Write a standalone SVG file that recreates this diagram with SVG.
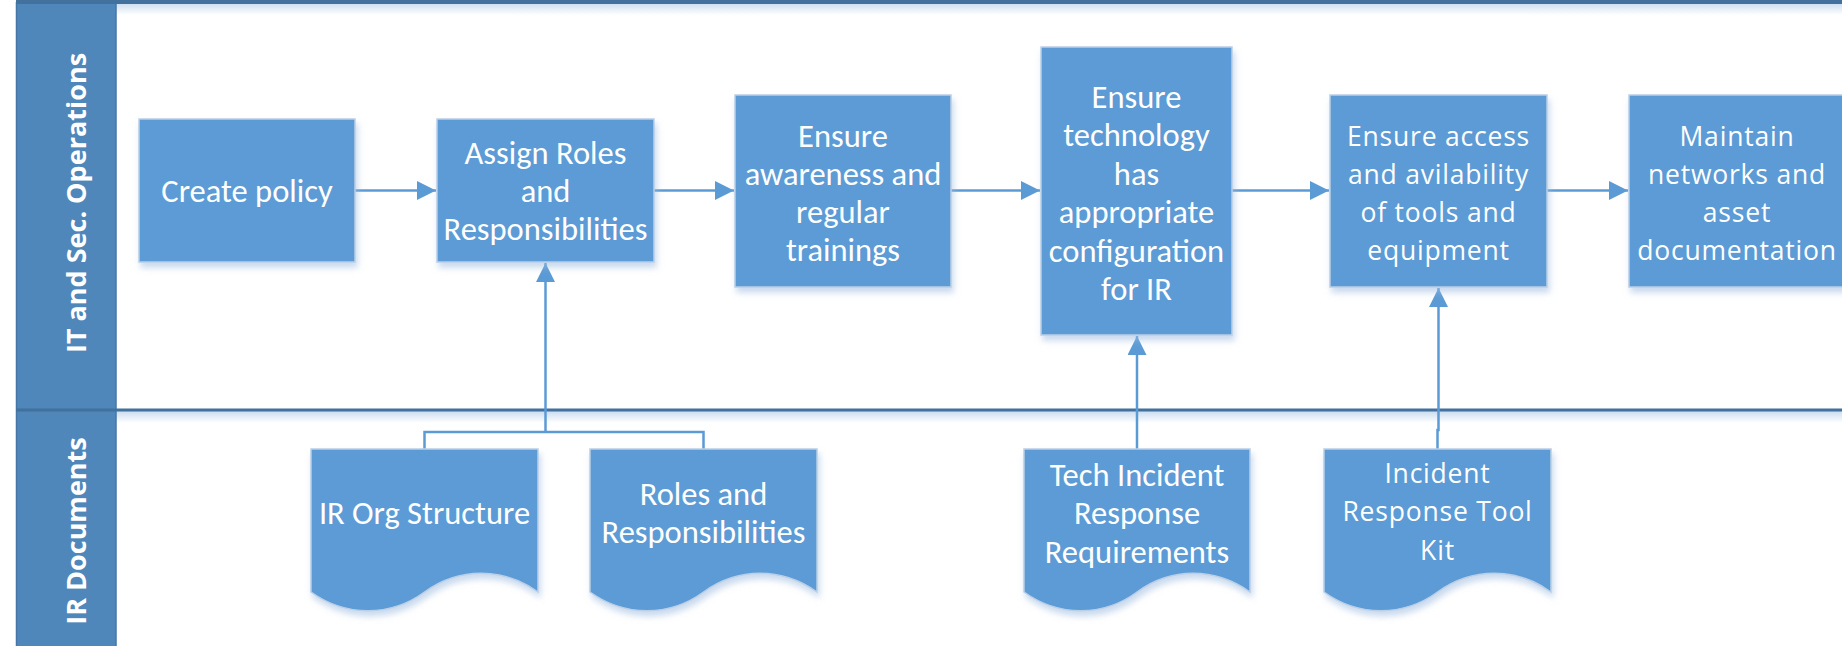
<svg xmlns="http://www.w3.org/2000/svg" width="1842" height="646" viewBox="0 0 1842 646">
<style>
.box{fill:#5B9BD5;stroke:#BBCFE6;stroke-width:1.5;filter:url(#sh)}
.doc{fill:#5B9BD5;stroke:#BBCFE6;stroke-width:1.5;filter:url(#sh)}
.t{font-family:Calibri,Carlito,Lato,"Liberation Sans",sans-serif;font-size:32.5px;fill:#fff;text-anchor:middle}
.t2{font-family:"Open Sans","DejaVu Sans",sans-serif;font-size:26.5px;letter-spacing:0.8px;fill:#fff;text-anchor:middle}
.hdr{font-family:"Open Sans","DejaVu Sans",sans-serif;font-weight:bold;font-size:27px;fill:#fff;text-anchor:middle}
.con{fill:none;stroke:#5B9BD5;stroke-width:2.5}
</style>
<defs>
<filter id="sh" x="-10%" y="-10%" width="125%" height="130%">
<feGaussianBlur in="SourceAlpha" stdDeviation="3"/>
<feOffset dx="2" dy="5" result="b"/>
<feFlood flood-color="#9DBBE0" flood-opacity="0.55"/>
<feComposite in2="b" operator="in"/>
<feMerge><feMergeNode/><feMergeNode in="SourceGraphic"/></feMerge>
</filter>
<linearGradient id="lsh" x1="0" y1="0" x2="0" y2="1">
<stop offset="0" stop-color="#C5D8EE" stop-opacity="0.9"/>
<stop offset="1" stop-color="#C5D8EE" stop-opacity="0"/>
</linearGradient>
<marker id="ah" markerUnits="userSpaceOnUse" markerWidth="20" markerHeight="20" refX="19" refY="9.5" orient="auto">
<path d="M0,0 L19,9.5 L0,19 z" fill="#5B9BD5"/>
</marker>
</defs>

<g id="lanes">
<rect x="116" y="3" width="1726" height="12" fill="url(#lsh)"/>
<rect x="116" y="411" width="1726" height="12" fill="url(#lsh)"/>
<rect x="16.5" y="2" width="99.5" height="644" fill="#4F87BA"/>
<line x1="116" y1="2" x2="116" y2="646" stroke="#4676A5" stroke-width="1.5"/>
<line x1="16.5" y1="2" x2="16.5" y2="646" stroke="#4676A5" stroke-width="1.5"/>
<line x1="16" y1="2" x2="1842" y2="2" stroke="#41719C" stroke-width="4"/>
<line x1="16" y1="410" x2="1842" y2="410" stroke="#41719C" stroke-width="3"/>
<text class="hdr" transform="translate(76,203) rotate(-90)" y="9.5">IT and Sec. Operations</text>
<text class="hdr" transform="translate(76,531) rotate(-90)" y="9.5">IR Documents</text>
</g>

<g id="connectors">
<path class="con" d="M355,190.5 H436" marker-end="url(#ah)"/>
<path class="con" d="M654,190.5 H734" marker-end="url(#ah)"/>
<path class="con" d="M951,190.5 H1040" marker-end="url(#ah)"/>
<path class="con" d="M1232,190.5 H1329" marker-end="url(#ah)"/>
<path class="con" d="M1547,190.5 H1628" marker-end="url(#ah)"/>
<path class="con" d="M424.5,449 V432 H703.5 V449"/>
<path class="con" d="M545.5,432 V263" marker-end="url(#ah)"/>
<path class="con" d="M1137,449 V336" marker-end="url(#ah)"/>
<path class="con" d="M1437.5,449 V430 H1438.5 V288" marker-end="url(#ah)"/>
</g>

<g id="n1">
<rect class="box" x="139" y="119" width="216" height="143"/>
<text class="t" x="247" y="202">Create policy</text>
</g>
<g id="n2">
<rect class="box" x="437" y="119" width="217" height="143"/>
<text class="t" x="545.5" y="164">Assign Roles</text>
<text class="t" x="545.5" y="202">and</text>
<text class="t" x="545.5" y="240">Responsibilities</text>
</g>
<g id="n3">
<rect class="box" x="735" y="95" width="216" height="192"/>
<text class="t" x="843" y="146.5">Ensure</text>
<text class="t" x="843" y="184.5">awareness and</text>
<text class="t" x="843" y="222.5">regular</text>
<text class="t" x="843" y="260.5">trainings</text>
</g>
<g id="n4">
<rect class="box" x="1041" y="47" width="191" height="288"/>
<text class="t" x="1136.5" y="107.5">Ensure</text>
<text class="t" x="1136.5" y="146">technology</text>
<text class="t" x="1136.5" y="184.5">has</text>
<text class="t" x="1136.5" y="223">appropriate</text>
<text class="t" x="1136.5" y="261.5">configuration</text>
<text class="t" x="1136.5" y="300">for IR</text>
</g>
<g id="n5">
<rect class="box" x="1330" y="95" width="217" height="192"/>
<text class="t2" x="1438.5" y="145.5">Ensure access</text>
<text class="t2" x="1438.5" y="183.5">and avilability</text>
<text class="t2" x="1438.5" y="221.5">of tools and</text>
<text class="t2" x="1438.5" y="259.5">equipment</text>
</g>
<g id="n6">
<rect class="box" x="1629" y="95" width="216" height="192"/>
<text class="t2" x="1737" y="145.5">Maintain</text>
<text class="t2" x="1737" y="183.5">networks and</text>
<text class="t2" x="1737" y="221.5">asset</text>
<text class="t2" x="1737" y="259.5">documentation</text>
</g>

<g id="d1">
<path class="doc" d="M311,449 H538 V592 C503,567 459,567 424.5,592 C390,617 346,617 311,592 Z"/>
<text class="t" x="424.5" y="524">IR Org Structure</text>
</g>
<g id="d2">
<path class="doc" d="M590,449 H817 V592 C782,567 738,567 703.5,592 C669,617 625,617 590,592 Z"/>
<text class="t" x="703.5" y="504.5">Roles and</text>
<text class="t" x="703.5" y="543">Responsibilities</text>
</g>
<g id="d3">
<path class="doc" d="M1024,449 H1250 V592 C1215,567 1171,567 1137,592 C1103,617 1059,617 1024,592 Z"/>
<text class="t" x="1137" y="485.5">Tech Incident</text>
<text class="t" x="1137" y="524">Response</text>
<text class="t" x="1137" y="562.5">Requirements</text>
</g>
<g id="d4">
<path class="doc" d="M1324,449 H1551 V592 C1516,567 1472,567 1437.5,592 C1403,617 1359,617 1324,592 Z"/>
<text class="t2" x="1437.5" y="482.5">Incident</text>
<text class="t2" x="1437.5" y="521">Response Tool</text>
<text class="t2" x="1437.5" y="559.5">Kit</text>
</g>
</svg>
